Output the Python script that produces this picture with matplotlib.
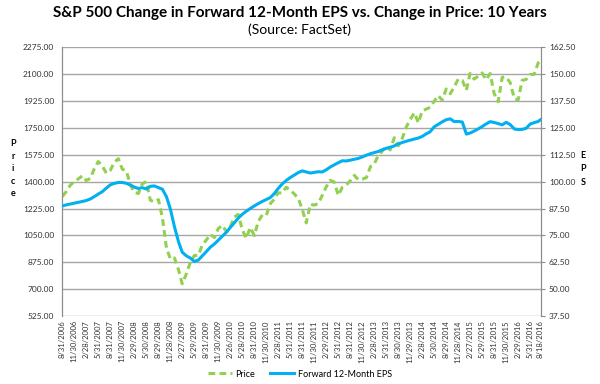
import pandas as pd
import matplotlib
matplotlib.use('Agg')
from matplotlib import pyplot as plt
import matplotlib.dates as mdates

# monthly S&P 500 price, 8/2006 .. 8/18/2016
price = [1303.8, 1335.9, 1377.9, 1400.6, 1418.3,
         1438.2, 1406.8, 1420.9, 1482.4, 1530.6, 1503.4, 1455.3, 1474.0, 1526.8, 1549.4, 1481.1, 1468.4,
         1378.6, 1330.6, 1322.7, 1385.6, 1400.4, 1280.0, 1267.4, 1282.8, 1166.4, 968.8, 896.2, 903.3,
         825.9, 735.1, 797.9, 872.8, 919.1, 919.3, 987.5, 1020.6, 1057.1, 1036.2, 1095.6, 1115.1,
         1073.9, 1104.5, 1169.4, 1186.7, 1089.4, 1030.7, 1101.6, 1049.3, 1141.2, 1183.3, 1180.6, 1257.6,
         1286.1, 1327.2, 1325.8, 1363.6, 1345.2, 1320.6, 1292.3, 1218.9, 1131.4, 1253.3, 1247.0, 1257.6,
         1312.4, 1365.7, 1408.5, 1397.9, 1310.3, 1362.2, 1379.3, 1406.6, 1440.7, 1412.2, 1416.2, 1426.2,
         1498.1, 1514.7, 1569.2, 1597.6, 1630.7, 1606.3, 1685.7, 1633.0, 1681.6, 1756.5, 1805.8, 1848.4,
         1782.6, 1859.5, 1872.3, 1884.0, 1923.6, 1960.2, 1930.7, 2003.4, 1972.3, 2018.1, 2067.6, 2058.9,
         1995.0, 2104.5, 2067.9, 2085.5, 2107.4, 2063.1, 2103.8, 1972.2, 1920.0, 2079.4, 2080.4, 2043.9,
         1940.2, 1932.2, 2059.7, 2065.3, 2097.0, 2098.9, 2173.6, 2187.0]

# forward 12-month EPS
eps = [88.7, 89.2, 89.6, 90.0, 90.4,
       90.8, 91.2, 91.9, 93.0, 94.2, 95.3, 97.0, 98.5, 99.2, 99.6, 99.6, 99.2,
       98.4, 97.5, 96.8, 97.2, 96.6, 97.8, 98.0, 97.2, 96.5, 93.0, 87.2, 79.0,
       72.0, 67.2, 65.5, 64.5, 62.9, 63.5, 65.5, 67.5, 69.5, 71.0, 72.8, 74.7,
       76.5, 78.6, 80.8, 83.0, 84.8, 86.2, 87.5, 88.7, 89.8, 90.8, 91.7, 92.6,
       94.5, 96.8, 98.9, 100.5, 101.9, 103.0, 104.2, 105.0, 104.5, 104.0, 104.3, 104.6,
       104.5, 105.5, 106.8, 107.8, 108.8, 109.7, 109.6, 110.0, 110.4, 110.8, 111.5, 112.3,
       113.0, 113.5, 114.0, 114.8, 115.5, 116.0, 116.6, 117.6, 118.2, 118.8, 119.3, 119.8,
       120.3, 121.0, 122.2, 123.2, 125.5, 126.6, 127.8, 128.8, 129.2, 127.9, 128.0, 127.7,
       122.1, 122.6, 123.5, 124.5, 125.6, 126.8, 127.9, 127.5, 127.0, 126.4, 127.6, 126.5,
       124.5, 124.2, 124.3, 124.8, 126.8, 127.4, 128.0, 128.8]

dates = list(pd.date_range('2006-08-31', '2016-07-31', freq='ME')) + [pd.Timestamp('2016-08-18')]

tick_labels = ['8/31/2006', '11/30/2006', '2/28/2007', '5/31/2007', '8/31/2007', '11/30/2007',
               '2/29/2008', '5/30/2008', '8/29/2008', '11/28/2008', '2/27/2009', '5/29/2009',
               '8/31/2009', '11/30/2009', '2/26/2010', '5/28/2010', '8/31/2010', '11/30/2010',
               '2/28/2011', '5/31/2011', '8/31/2011', '11/30/2011', '2/29/2012', '5/31/2012',
               '8/31/2012', '11/30/2012', '2/28/2013', '5/31/2013', '8/30/2013', '11/29/2013',
               '2/28/2014', '5/30/2014', '8/29/2014', '11/28/2014', '2/27/2015', '5/29/2015',
               '8/31/2015', '11/30/2015', '2/29/2016', '5/31/2016', '8/18/2016']

plt.rcParams['font.family'] = ['Lato', 'DejaVu Sans']

fig = plt.figure(figsize=(6, 3.84), dpi=100)
ax = fig.add_axes([0.104, 0.177, 0.797, 0.700])
ax2 = ax.twinx()

x = mdates.date2num(dates)
l1, = ax.plot(x, price, color='#92D050', lw=2.2, linestyle=(0, (2.2, 1.4)), label='Price', zorder=3)
l2, = ax2.plot(x, eps, color='#00B0F0', lw=2.2, label='Forward 12-Month EPS', zorder=3)

ax.set_ylim(525, 2275)
ax2.set_ylim(37.5, 162.5)
yt = [525 + 175 * i for i in range(11)]
ax.set_yticks(yt)
ax.set_yticklabels(['%.2f' % v for v in yt], fontsize=6)
yt2 = [37.5 + 12.5 * i for i in range(11)]
ax2.set_yticks(yt2)
ax2.set_yticklabels(['%.2f' % v for v in yt2], fontsize=6)
ax.grid(axis='y', color='#a6a6a6', lw=1)
ax.set_axisbelow(True)

xt = mdates.date2num([pd.to_datetime(t, format='%m/%d/%Y') for t in tick_labels])
ax.set_xticks(xt)
ax.set_xticklabels(tick_labels, rotation=90, fontsize=5.5)
ax.set_xlim(xt[0], xt[-1])

for a in (ax, ax2):
    for s in a.spines.values():
        s.set_color('#8c8c8c')
    a.spines['top'].set_visible(False)
    a.spines['bottom'].set_visible(False)
ax.tick_params(axis='y', length=0, pad=6, colors='#333333')
ax.tick_params(axis='x', length=0, pad=3, colors='#333333')
ax2.tick_params(axis='y', length=3, color='#8c8c8c', pad=3, colors='#333333')

fig.text(0.5, 0.965, 'S&P 500 Change in Forward 12-Month EPS vs. Change in Price: 10 Years',
         ha='center', va='center', fontsize=11, fontweight='bold')
fig.text(0.5, 0.922, '(Source: FactSet)', ha='center', va='center', fontsize=10)
fig.text(0.022, 0.56, 'P\nr\ni\nc\ne', ha='center', va='center', fontsize=6.5,
         fontweight='bold', linespacing=1.5)
fig.text(0.972, 0.56, 'E\nP\nS', ha='center', va='center', fontsize=6.5,
         fontweight='bold', linespacing=1.6)

fig.legend(handles=[l1, l2], loc='center', bbox_to_anchor=(0.5, 0.026), ncol=2,
           frameon=False, fontsize=6.5, handlelength=2.6, handletextpad=0.4,
           columnspacing=1.7)

fig.savefig('out.png', dpi=100)
